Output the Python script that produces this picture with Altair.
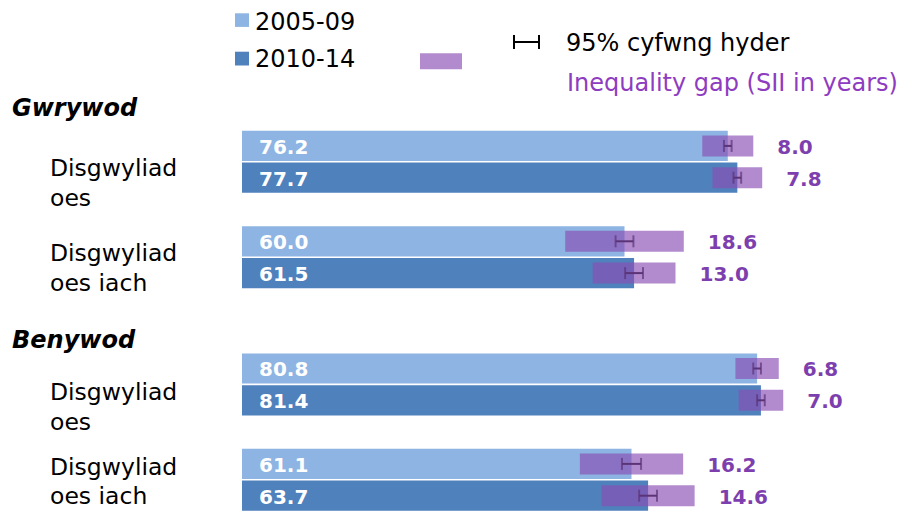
import altair as alt
import pandas as pd

# ---------------- data ----------------
genders = ["Gwrywod", "Benywod"]
measures = ["Disgwyliad oes", "Disgwyliad oes iach"]
measure_labels = ["Disgwyliad\noes", "Disgwyliad\noes iach"]
periods = ["2005-09", "2010-14"]
period_colors = ["#8DB4E2", "#4F81BD"]

# order: Gwrywod LE 05-09, 10-14, Gwrywod HLE 05-09, 10-14, Benywod LE ..., Benywod HLE ...
life_exp = [76.2, 77.7, 60.0, 61.5, 80.8, 81.4, 61.1, 63.7]
ci_lower = [75.6, 77.1, 58.6, 60.1, 80.2, 80.8, 59.6, 62.3]
ci_upper = [76.8, 78.3, 61.4, 62.9, 81.4, 82.0, 62.6, 65.1]
sii_gap = [8.0, 7.8, 18.6, 13.0, 6.8, 7.0, 16.2, 14.6]

legend_ci_text = "95% cyfwng hyder"
legend_sii_text = "Inequality gap (SII in years)"

# ---------------- tables ----------------
rows, slots, label_rows, header_rows = [], [], [], []
i = 0
for gi, g in enumerate(genders):
    slots.append(g)
    header_rows.append(dict(slot=g, text=g, idx=gi))
    for mi, m in enumerate(measures):
        if mi > 0:
            slots.append(f"{g}|gap{mi}")
        for pi, p in enumerate(periods):
            s = f"{g}|{m}|{p}"
            slots.append(s)
            if pi == 0:
                label_rows.append(dict(slot=s, text=measure_labels[mi], idx=gi * 2 + mi))
            rows.append(dict(gender=g, measure=m, period=p, slot=s,
                             value=life_exp[i], lo=ci_lower[i], hi=ci_upper[i],
                             sii=sii_gap[i]))
            i += 1
    if g != genders[-1]:
        slots.append(f"{g}|end")

df = pd.DataFrame(rows)
labels_df = pd.DataFrame(label_rows)
headers_df = pd.DataFrame(header_rows)

FONT = "DejaVu Sans"
PURPLE = "#8A4FB5"
PURPLE_TEXT = "#7E3FAE"

xscale = alt.Scale(domain=[0, 100], nice=False, zero=True)
Y = alt.Y("slot:N",
          scale=alt.Scale(domain=slots, range=[0, 411.8], paddingInner=0.05, paddingOuter=0),
          axis=None)

base = alt.Chart(df)

bars = base.mark_bar().encode(
    x=alt.X("value:Q", scale=xscale, axis=None),
    y=Y,
    color=alt.Color("period:N", scale=alt.Scale(domain=periods, range=period_colors), legend=None),
)

value_text = base.mark_text(align="left", baseline="middle", dy=2, fontSize=20,
                            fontWeight="bold", color="white", font=FONT).encode(
    x=alt.value(17), y=Y, text=alt.Text("value:Q", format=".1f"))

err_line = base.mark_rule(color="black", strokeWidth=2).encode(
    x=alt.X("lo:Q", scale=xscale), x2="hi:Q", y=Y)
err_lo = base.mark_tick(color="black", thickness=2, size=12).encode(
    x=alt.X("lo:Q", scale=xscale), y=Y)
err_hi = base.mark_tick(color="black", thickness=2, size=12).encode(
    x=alt.X("hi:Q", scale=xscale), y=Y)

gap_base = base.transform_calculate(
    left="datum.value - datum.sii / 2", right="datum.value + datum.sii / 2")

gap_bars = gap_base.mark_bar(size=21, color=PURPLE, opacity=0.66).encode(
    x=alt.X("left:Q", scale=xscale), x2="right:Q", y=Y)

gap_text = gap_base.mark_text(align="left", baseline="middle", dx=24, dy=2, fontSize=20,
                              fontWeight="bold", color=PURPLE_TEXT, font=FONT).encode(
    x=alt.X("right:Q", scale=xscale), y=Y, text=alt.Text("sii:Q", format=".1f"))

# row labels: vertical nudges per row (layout only)
label_dy = [30.5, 20, 32, 11]
lab = alt.Chart(labels_df)
row_layers = [
    lab.transform_filter(alt.datum.idx == k).mark_text(
        align="left", baseline="alphabetic", dy=d, fontSize=23.5, lineHeight=29.5,
        lineBreak="\n", font=FONT, color="black").encode(x=alt.value(-192), y=Y, text="text:N")
    for k, d in enumerate(label_dy)
]

header_dy = [2, 11]
hdr = alt.Chart(headers_df)
hdr_layers = [
    hdr.transform_filter(alt.datum.idx == k).mark_text(
        align="left", baseline="alphabetic", dy=d, fontSize=24, fontWeight="bold",
        fontStyle="italic", font=FONT, color="black").encode(x=alt.value(-230), y=Y, text="text:N")
    for k, d in enumerate(header_dy)
]

# ---------------- legend (drawn as annotations) ----------------
one = alt.Chart(pd.DataFrame({"k": [0]}))
leg_sq1 = one.mark_rect(color=period_colors[0]).encode(
    x=alt.value(-7), x2=alt.value(7), y=alt.value(-85.7), y2=alt.value(-72.1))
leg_sq2 = one.mark_rect(color=period_colors[1]).encode(
    x=alt.value(-7), x2=alt.value(7), y=alt.value(-47.3), y2=alt.value(-33.5))
leg_t1 = one.mark_text(align="left", baseline="middle", fontSize=24, font=FONT, color="black",
                       text=periods[0]).encode(x=alt.value(13), y=alt.value(-76.5))
leg_t2 = one.mark_text(align="left", baseline="middle", fontSize=24, font=FONT, color="black",
                       text=periods[1]).encode(x=alt.value(13), y=alt.value(-39.5))
leg_purple = one.mark_rect(color=PURPLE, opacity=0.66).encode(
    x=alt.value(178), x2=alt.value(220), y=alt.value(-45.7), y2=alt.value(-29.7))
leg_err = one.mark_rule(color="black", strokeWidth=2).encode(
    x=alt.value(272), x2=alt.value(297), y=alt.value(-57))
leg_err_l = one.mark_rule(color="black", strokeWidth=2).encode(
    x=alt.value(272), y=alt.value(-64), y2=alt.value(-50))
leg_err_r = one.mark_rule(color="black", strokeWidth=2).encode(
    x=alt.value(297), y=alt.value(-64), y2=alt.value(-50))
leg_t3 = one.mark_text(align="left", baseline="middle", fontSize=24, font=FONT, color="black",
                       text=legend_ci_text).encode(x=alt.value(324), y=alt.value(-55.5))
leg_t4 = one.mark_text(align="left", baseline="middle", fontSize=24, font=FONT, color="#8E3CC0",
                       text=legend_sii_text).encode(x=alt.value(325), y=alt.value(-15))

chart = alt.layer(
    bars, value_text, err_line, err_lo, err_hi, gap_bars, gap_text,
    *row_layers, *hdr_layers,
    leg_sq1, leg_sq2, leg_t1, leg_t2, leg_purple, leg_err, leg_err_l, leg_err_r, leg_t3, leg_t4,
).properties(
    width=637.5, height=412, autosize="none",
    padding={"left": 234, "top": 91, "right": 25.5, "bottom": 0},
).configure_view(stroke=None)

chart.save("out.html", embed_options={"renderer": "svg", "actions": False})
